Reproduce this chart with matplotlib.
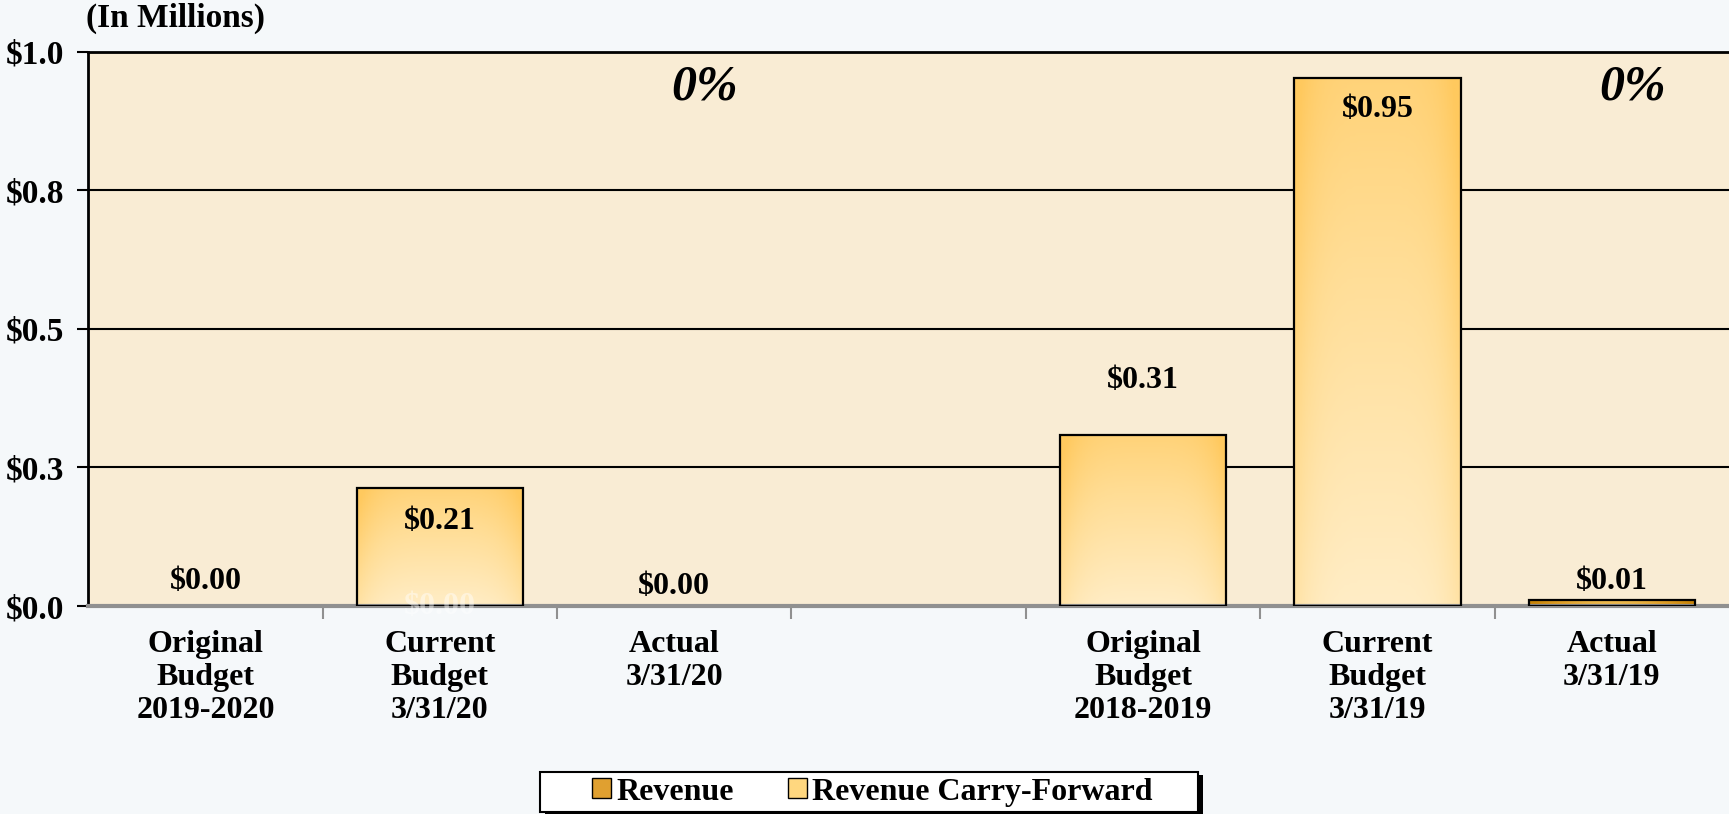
import numpy as np
import matplotlib.pyplot as plt
from matplotlib.patches import Patch, Rectangle
from matplotlib.colors import LinearSegmentedColormap

categories = [
    "Original\nBudget\n2019-2020", "Current\nBudget\n3/31/20", "Actual\n3/31/20", "",
    "Original\nBudget\n2018-2019", "Current\nBudget\n3/31/19", "Actual\n3/31/19",
]
revenue = [0.0, 0.0, 0.0, 0.0, 0.0, 0.0, 0.01]
carry_forward = [0.0, 0.213, 0.0, 0.0, 0.308, 0.952, 0.0]
value_labels = ["$0.00", "$0.21", "$0.00", "", "$0.31", "$0.95", "$0.01"]
pct_labels = {2: "0%", 6: "0%"}
yticks = [0.0, 0.25, 0.5, 0.75, 1.0]
ytick_labels = ["$0.0", "$0.3", "$0.5", "$0.8", "$1.0"]

# label heights (data units) as placed on the original chart
label_y = [0.044, 0.153, 0.036, None, 0.406, 0.895, 0.044]
pct_dx = {2: 0.13, 6: 0.09}

SERIF = ["Liberation Serif", "DejaVu Serif"]
BG = "#f5f8fa"
PLOT_BG = "#f9ecd4"

plt.rcParams["font.family"] = SERIF
plt.rcParams["font.weight"] = "bold"

fig = plt.figure(figsize=(17.29, 8.14), dpi=100, facecolor=BG)
ax = fig.add_axes([0.051, 0.2555, 0.949, 0.681], facecolor=PLOT_BG)

x = np.arange(len(categories))
width = 0.71

light_cmap = LinearSegmentedColormap.from_list("light", ["#ffedc6", "#ffdd95", "#ffc95e"])
dark_cmap = LinearSegmentedColormap.from_list("dark", ["#f3c864", "#e2a22a", "#c98508"])


def gradient_bar(ax, bar, cmap, vertical=True):
    x0, y0 = bar.get_x(), bar.get_y()
    w, h = bar.get_width(), bar.get_height()
    yy, xx = np.mgrid[0:1:100j, -1:1:60j]
    if vertical:
        z = 0.75 * yy + 0.35 * xx ** 4
    else:
        z = 0.2 + 0.9 * np.abs(xx) ** 2
    z = np.clip(z, 0, 1)
    im = ax.imshow(z, cmap=cmap, vmin=0, vmax=1, origin="lower",
                   extent=[x0, x0 + w, y0, y0 + h], aspect="auto", zorder=2)
    im.set_clip_path(bar)
    bar.set_facecolor("none")


# only draw segments that have a value
for vals, bottoms, cmap, vertical in [
    (revenue, [0.0] * len(x), dark_cmap, False),
    (carry_forward, revenue, light_cmap, True),
]:
    idx = [i for i, v in enumerate(vals) if v > 0]
    bars = ax.bar(x[idx], [vals[i] for i in idx], width, bottom=[bottoms[i] for i in idx],
                  edgecolor="black", linewidth=1.6, zorder=3)
    for b in bars:
        gradient_bar(ax, b, cmap, vertical)

for i, (lab, ly) in enumerate(zip(value_labels, label_y)):
    if lab:
        ax.text(x[i], ly, lab, ha="center", va="center", fontsize=23,
                fontweight="bold", zorder=5)

# faint hidden revenue label at the base of the current budget bar
ax.text(x[1], 0.0, "$0.00", ha="center", va="center", fontsize=23,
        fontweight="bold", color="white", alpha=0.45, zorder=4)

for i, lab in pct_labels.items():
    ax.text(x[i] + pct_dx[i], 0.935, lab, ha="center", va="center", fontsize=36,
            fontweight="bold", style="italic", zorder=5)

ax.set_xlim(-0.5, len(categories) - 0.5)
ax.set_ylim(0, 1.0)
ax.set_yticks(yticks)
ax.set_yticklabels(ytick_labels, fontsize=24, fontweight="bold")
ax.yaxis.grid(True, color="black", linewidth=1.5, zorder=1)
ax.set_axisbelow(True)
ax.tick_params(axis="y", length=8, width=1.5, pad=9)

ax.set_xticks(x)
ax.set_xticklabels(categories, fontsize=23, fontweight="bold", linespacing=1.2)
ax.set_xticks(np.arange(len(categories) - 1) + 0.5, minor=True)
ax.tick_params(axis="x", which="major", length=0, pad=17)
ax.tick_params(axis="x", which="minor", length=9, width=1.5, color="#909090")

ax.spines["right"].set_visible(False)
ax.spines["top"].set_linewidth(2)
ax.spines["left"].set_linewidth(2)
ax.spines["bottom"].set_color("#909090")
ax.spines["bottom"].set_linewidth(3)

fig.text(0.05, 0.977, "(In Millions)", ha="left", va="center", fontsize=24, fontweight="bold")

# legend box with a shadow on its right edge
fig.patches.append(Rectangle((0.3155, 0.0), 0.3805, 0.048, transform=fig.transFigure,
                             facecolor="black", edgecolor="none", zorder=1))
fig.patches.append(Rectangle((0.3123, 0.0025), 0.3805, 0.0490, transform=fig.transFigure,
                             facecolor="white", edgecolor="black", linewidth=1.5, zorder=2))

handles = [Patch(facecolor="#e0a030", edgecolor="black", label="Revenue"),
           Patch(facecolor="#ffd77f", edgecolor="black", label="Revenue Carry-Forward")]
leg = fig.legend(handles=handles, loc="center", bbox_to_anchor=(0.5045, 0.027), ncol=2,
                 frameon=False, handlelength=0.6, handleheight=0.6, handletextpad=0.15,
                 columnspacing=1.7, borderpad=0.2, borderaxespad=0,
                 prop={"family": SERIF, "weight": "bold", "size": 23})
leg.set_zorder(3)

fig.savefig("out.png", dpi=100, facecolor=BG)
